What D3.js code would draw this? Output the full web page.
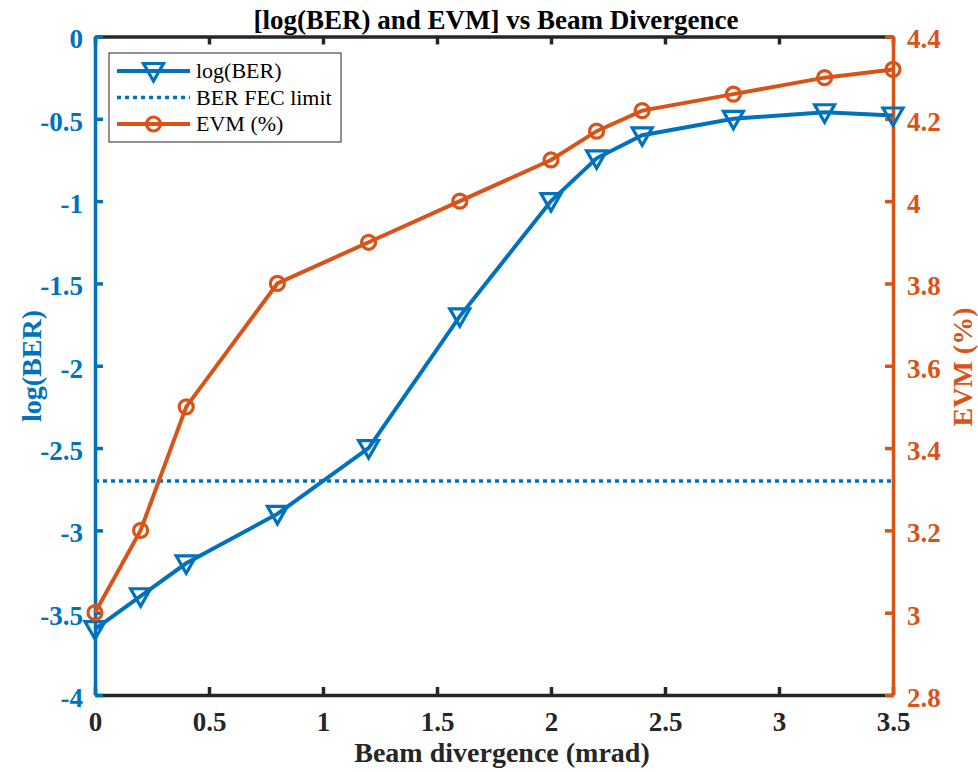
<!DOCTYPE html>
<html>
<head>
<meta charset="utf-8">
<script src="https://cdn.jsdelivr.net/npm/d3@7/dist/d3.min.js"></script>
<style>
  html, body { margin: 0; padding: 0; background: #fff; }
  svg { display: block; }
</style>
</head>
<body>
<svg id="chart" width="978" height="772"></svg>
<script>
// Beam divergence (mrad) sample points
const divergence = [0, 0.2, 0.4, 0.8, 1.2, 1.6, 2.0, 2.2, 2.4, 2.8, 3.2, 3.5];
// log10 of measured bit error rate
const logBER = [-3.6, -3.4, -3.2, -2.9, -2.5, -1.7, -1.0, -0.74, -0.6, -0.5, -0.46, -0.48];
// Error vector magnitude (%)
const evm = [3.0, 3.2, 3.5, 3.8, 3.9, 4.0, 4.1, 4.17, 4.22, 4.26, 4.30, 4.32];
// Forward error correction threshold, log10(2e-3)
const fecLimit = -2.7;

const xTicks = [0, 0.5, 1, 1.5, 2, 2.5, 3, 3.5];
const leftTicks = [0, -0.5, -1, -1.5, -2, -2.5, -3, -3.5, -4];
const rightTicks = [2.8, 3, 3.2, 3.4, 3.6, 3.8, 4, 4.2, 4.4];

const BLUE = "#0072BD", ORANGE = "#D95319", DARK = "#262626";
const FONT = "'Liberation Serif', 'Times New Roman', serif";

const svg = d3.select("#chart").style("font-family", FONT);
const m = { left: 95, right: 893, top: 36.5, bottom: 695 };

const x = d3.scaleLinear().domain([0, 3.5]).range([m.left, m.right]);
const yL = d3.scaleLinear().domain([-4, 0]).range([m.bottom, m.top]);
const yR = d3.scaleLinear().domain([2.8, 4.4]).range([m.bottom, m.top]);

const fmt = d => String(d);
const tickLen = 8;
const TICK_FS = 27;

function styleAxis(g, color) {
  g.style("font-family", FONT).style("font-size", TICK_FS + "px");
  g.select(".domain").attr("stroke", color).attr("stroke-width", 3.5);
  g.selectAll(".tick line").attr("stroke", color).attr("stroke-width", 3.5);
  g.selectAll(".tick text")
    .style("fill", color)
    .style("font-family", FONT)
    .style("font-size", TICK_FS + "px")
    .style("font-weight", "bold");
}

// Bottom and top axes (dark)
const gx = svg.append("g").attr("transform", `translate(0,${m.bottom})`)
  .call(d3.axisBottom(x).tickValues(xTicks).tickFormat(fmt).tickSizeInner(-tickLen).tickSizeOuter(0).tickPadding(17));
const gxt = svg.append("g").attr("transform", `translate(0,${m.top})`)
  .call(d3.axisTop(x).tickValues(xTicks).tickFormat("").tickSizeInner(-tickLen).tickSizeOuter(0));
styleAxis(gx, DARK);
styleAxis(gxt, DARK);

// Left axis (blue)
const gl = svg.append("g").attr("transform", `translate(${m.left},0)`)
  .call(d3.axisLeft(yL).tickValues(leftTicks).tickFormat(fmt).tickSizeInner(-tickLen).tickSizeOuter(0).tickPadding(12));
styleAxis(gl, BLUE);
gl.selectAll(".tick text").attr("dy", "0.42em");

// Right axis (orange)
const gr = svg.append("g").attr("transform", `translate(${m.right},0)`)
  .call(d3.axisRight(yR).tickValues(rightTicks).tickFormat(fmt).tickSizeInner(-tickLen).tickSizeOuter(0).tickPadding(14));
styleAxis(gr, ORANGE);
gr.selectAll(".tick text").attr("dy", "0.42em");

// FEC limit line
svg.append("line")
  .attr("x1", x(0)).attr("x2", x(3.5))
  .attr("y1", yL(fecLimit)).attr("y2", yL(fecLimit))
  .attr("stroke", BLUE).attr("stroke-width", 3.5).attr("stroke-dasharray", "4,4");

// Series lines
const berPts = divergence.map((d, i) => [d, logBER[i]]);
const evmPts = divergence.map((d, i) => [d, evm[i]]);

svg.append("path").datum(berPts)
  .attr("d", d3.line().x(d => x(d[0])).y(d => yL(d[1])))
  .attr("fill", "none").attr("stroke", BLUE).attr("stroke-width", 4);
svg.append("path").datum(evmPts)
  .attr("d", d3.line().x(d => x(d[0])).y(d => yR(d[1])))
  .attr("fill", "none").attr("stroke", ORANGE).attr("stroke-width", 4);

// Markers: downward triangles and circles, unfilled
const tri = (cx, cy, s) => `M${cx - s},${cy - s * 0.75}L${cx + s},${cy - s * 0.75}L${cx},${cy + s}Z`;
const TRI = 10, CIRC = 7;
svg.append("g").selectAll("path").data(berPts).join("path")
  .attr("d", d => tri(x(d[0]), yL(d[1]), TRI))
  .attr("fill", "none").attr("stroke", BLUE).attr("stroke-width", 3.2).attr("stroke-linejoin", "miter");
svg.append("g").selectAll("circle").data(evmPts).join("circle")
  .attr("cx", d => x(d[0])).attr("cy", d => yR(d[1])).attr("r", CIRC)
  .attr("fill", "none").attr("stroke", ORANGE).attr("stroke-width", 3.2);

// Title and axis labels
const label = (sel, size, color) => sel.style("font-family", FONT).style("font-size", size + "px")
  .style("font-weight", "bold").style("fill", color).attr("text-anchor", "middle");

label(svg.append("text").attr("x", 496).attr("y", 29), 27, "#000")
  .text("[log(BER) and EVM] vs Beam Divergence");
label(svg.append("text").attr("x", 502).attr("y", 762), 28, DARK)
  .text("Beam divergence (mrad)");
label(svg.append("text").attr("transform", "translate(41,366) rotate(-90)"), 28, BLUE)
  .text("log(BER)");
label(svg.append("text").attr("transform", "translate(972,367) rotate(-90)"), 28, ORANGE)
  .text("EVM (%)");

// Legend
const lg = svg.append("g");
lg.append("rect").attr("x", 109).attr("y", 53).attr("width", 232).attr("height", 89)
  .attr("fill", "#fff").attr("stroke", "#262626").attr("stroke-width", 1);
const rows = [
  { label: "log(BER)", color: BLUE, dash: null, marker: "tri" },
  { label: "BER FEC limit", color: BLUE, dash: "4,4", marker: null },
  { label: "EVM (%)", color: ORANGE, dash: null, marker: "circ" }
];
rows.forEach((r, i) => {
  const cy = 71 + i * 26.5;
  lg.append("line").attr("x1", 117).attr("x2", 190).attr("y1", cy).attr("y2", cy)
    .attr("stroke", r.color).attr("stroke-width", r.dash ? 3.5 : 4).attr("stroke-dasharray", r.dash);
  if (r.marker === "tri") {
    lg.append("path").attr("d", tri(153.5, cy, TRI)).attr("fill", "none")
      .attr("stroke", r.color).attr("stroke-width", 3.2);
  } else if (r.marker === "circ") {
    lg.append("circle").attr("cx", 153.5).attr("cy", cy).attr("r", CIRC).attr("fill", "none")
      .attr("stroke", r.color).attr("stroke-width", 3.2);
  }
  lg.append("text").attr("x", 196).attr("y", cy + 7)
    .style("font-family", FONT).style("font-size", "22px").style("fill", "#000")
    .text(r.label);
});
</script>
</body>
</html>
